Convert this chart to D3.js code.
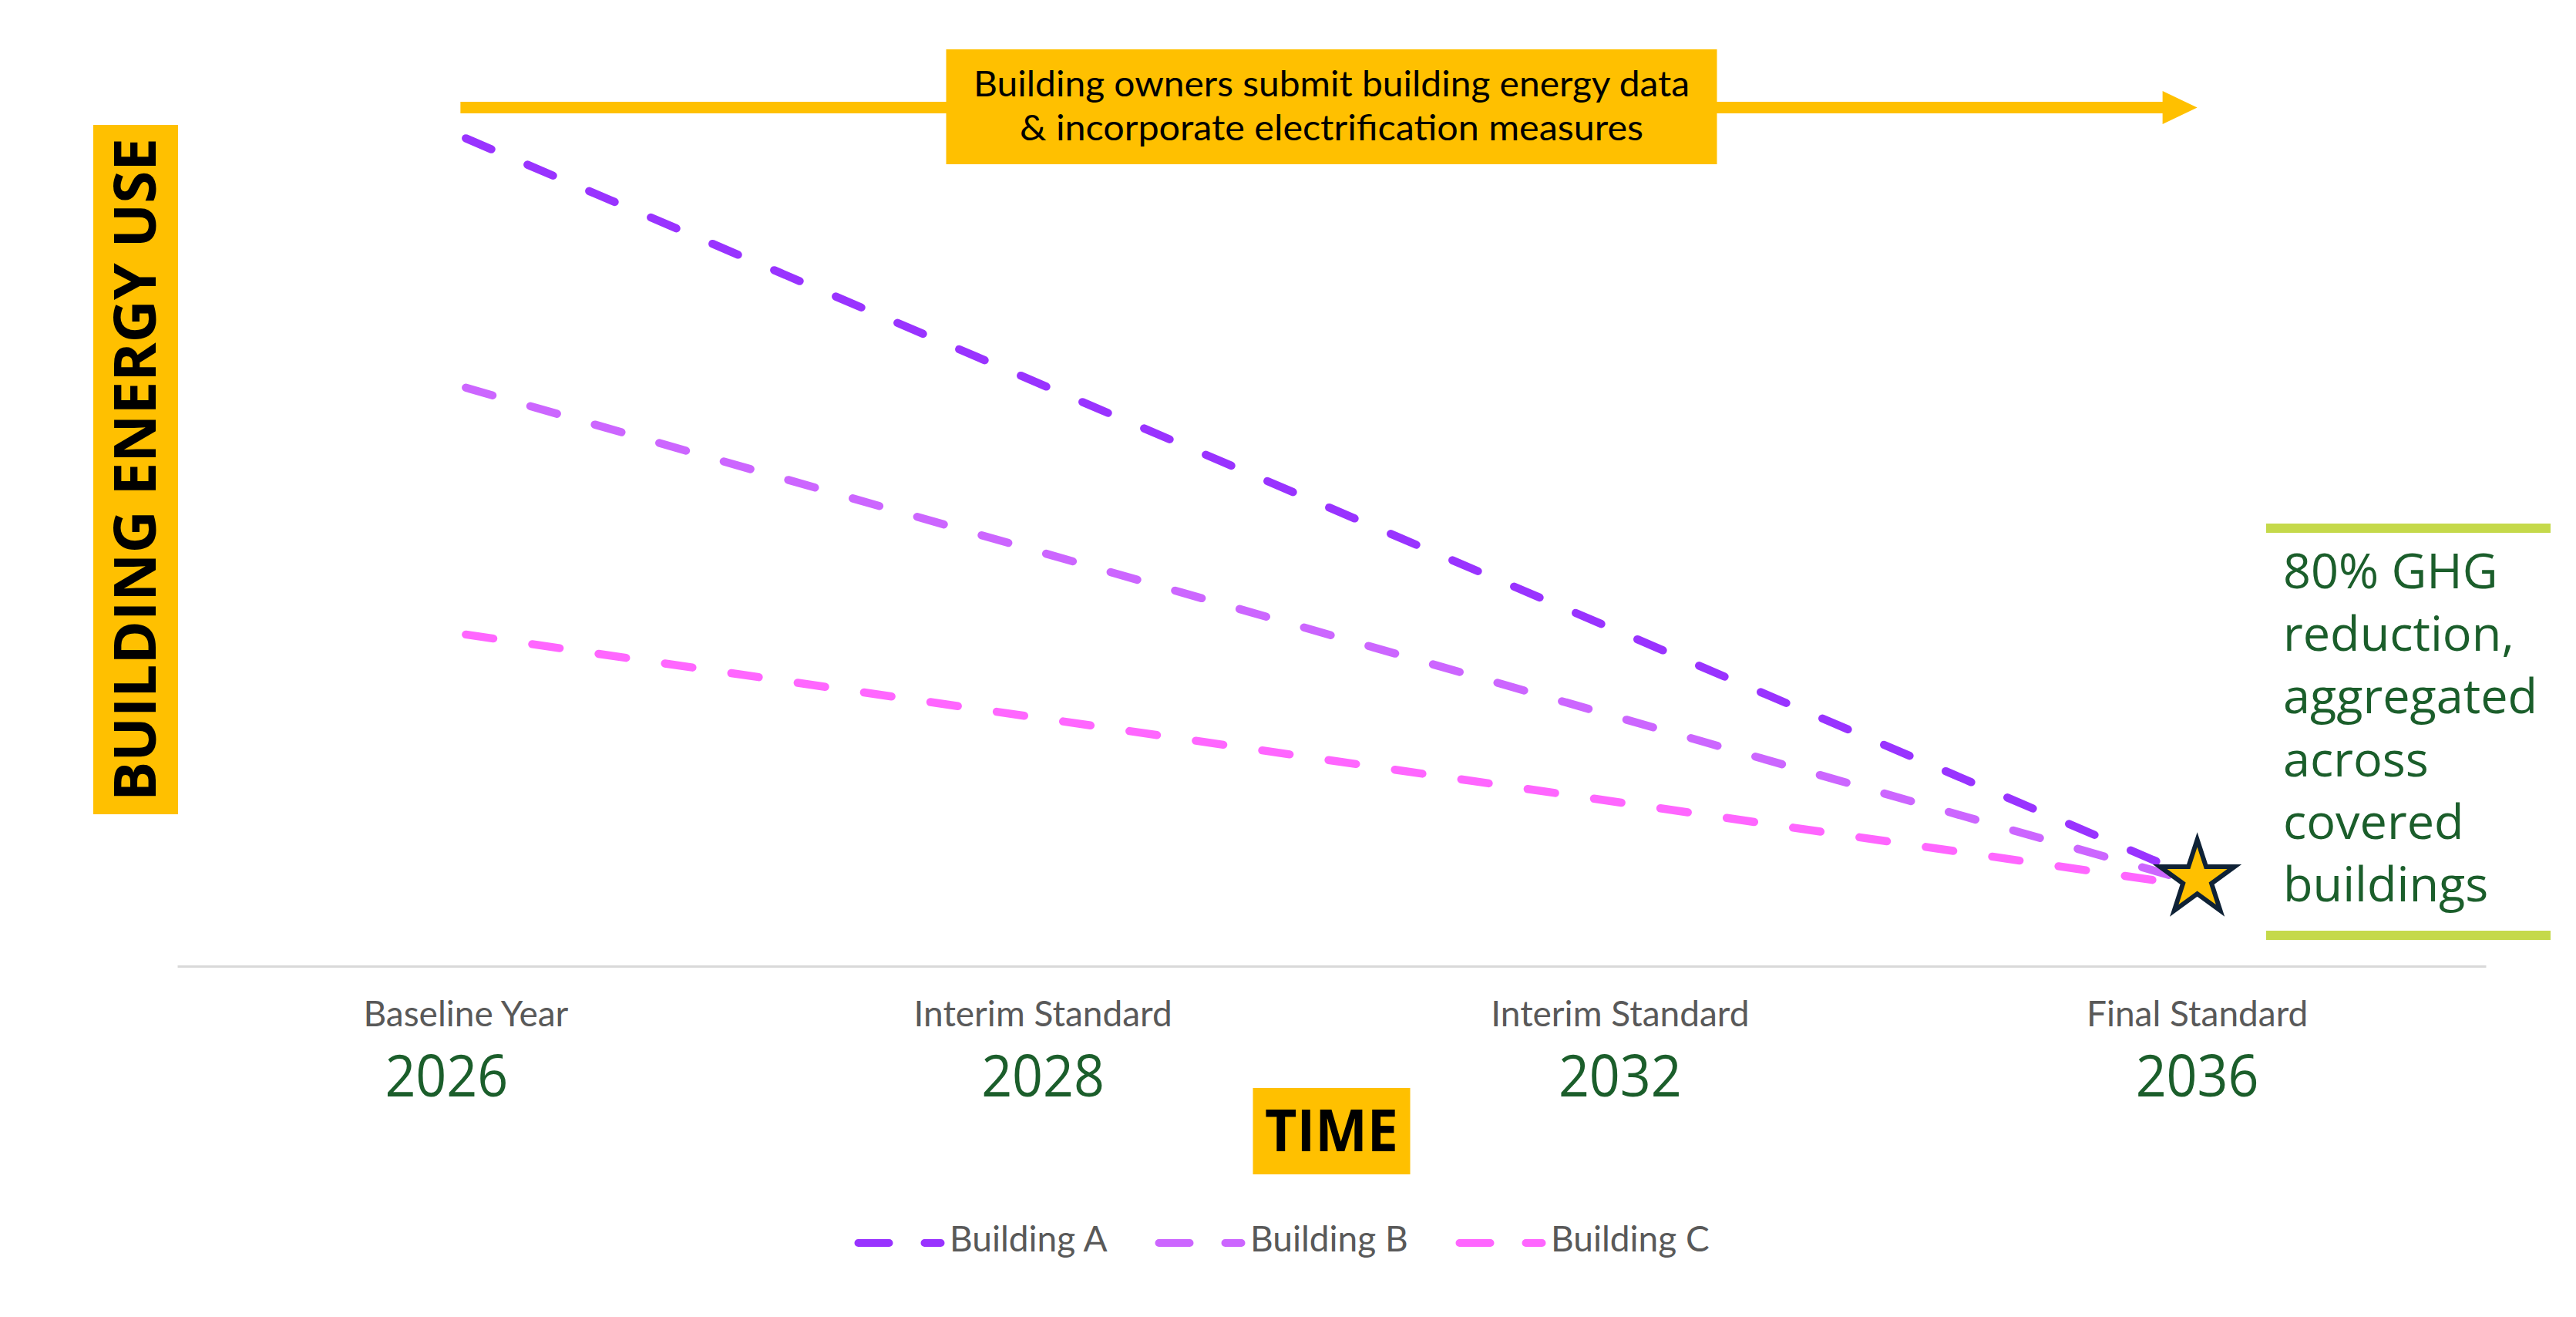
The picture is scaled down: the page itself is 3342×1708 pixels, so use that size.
<!DOCTYPE html>
<html>
<head>
<meta charset="utf-8">
<script src="https://cdn.jsdelivr.net/npm/d3@7"></script>
<style>
  body { margin: 0; background: #fff; }
  svg { display: block; }
</style>
</head>
<body>
<div id="chart"></div>
<script>
var width = 3342, height = 1708;

// milestones on the time axis
const stages = ["Baseline Year", "Interim Standard", "Interim Standard", "Final Standard"];
const years = ["2026", "2028", "2032", "2036"];

// building energy use (relative units, 0-100): baseline year -> final standard
const buildings = ["Building A", "Building B", "Building C"];
const startValues = [97.6, 68.2, 39.1];
const endValues = [10.3, 9.8, 9.4];
const colors = ["#9933ff", "#cc66ff", "#ff66ff"];

const arrowText = ["Building owners submit building energy data", "& incorporate electrification measures"];
const goalText = ["80% GHG", "reduction,", "aggregated", "across", "covered", "buildings"];
const yTitle = "BUILDING ENERGY USE";
const xTitle = "TIME";

const yellow = "#ffc000", green = "#1b5e2b", grey = "#595959";

var svg = d3.select("#chart").append("svg")
    .attr("width", width)
    .attr("height", height)
    .style("background", "#fff");

var x = d3.scaleBand().domain(years).range([230, 3225]);
var cx = d => x(d) + x.bandwidth() / 2;
var y = d3.scaleLinear().domain([0, 100]).range([1253, 153]);

var first = years[0], last = years[years.length - 1];

// x axis: grey baseline with stage names
var xAxis = svg.append("g")
    .attr("transform", "translate(0," + y(0) + ")")
    .call(d3.axisBottom(x).tickSize(0).tickSizeOuter(0).tickPadding(45)
        .tickFormat((d, i) => stages[i]));

xAxis.select(".domain").attr("stroke", "#d9d9d9").attr("stroke-width", 3);
xAxis.selectAll(".tick text")
    .attr("font-family", "Lato")
    .attr("font-size", 46)
    .attr("fill", grey);

xAxis.selectAll(".tick").append("text")
    .attr("x", (d, i) => i === 0 ? -25 : 0)
    .attr("y", 169)
    .attr("text-anchor", "middle")
    .attr("font-family", "Open Sans")
    .attr("font-size", 75)
    .attr("textLength", 160)
    .attr("lengthAdjust", "spacingAndGlyphs")
    .attr("fill", green)
    .text(d => d);

// dashed trajectories
var line = d3.line().x(d => cx(d.year)).y(d => y(d.v));
var series = buildings.map((b, i) => ({
    name: b,
    pts: [{ year: first, v: startValues[i] }, { year: last, v: endValues[i] }]
}));

svg.append("g")
    .selectAll("path")
    .data(series)
    .enter().append("path")
    .attr("d", d => line(d.pts))
    .attr("fill", "none")
    .attr("stroke", (d, i) => colors[i])
    .attr("stroke-width", 10.5)
    .attr("stroke-linecap", "round")
    .attr("stroke-dasharray", "36 51");

// star at the final standard
svg.append("path")
    .attr("d", d3.symbol(d3.symbolStar).size(2900)())
    .attr("transform", "translate(" + cx(last) + "," + y(endValues[0]) + ")")
    .attr("fill", yellow)
    .attr("stroke", "#0f2236")
    .attr("stroke-width", 6)
    .attr("stroke-linejoin", "miter");

// top arrow + label box
var ay = 139.5, ax0 = cx(first) - 7, ax1 = cx(last);
var ap = d3.path();
ap.moveTo(ax0, ay - 7.5);
ap.lineTo(ax1 - 45, ay - 7.5);
ap.lineTo(ax1 - 45, ay - 21.5);
ap.lineTo(ax1, ay);
ap.lineTo(ax1 - 45, ay + 21.5);
ap.lineTo(ax1 - 45, ay + 7.5);
ap.lineTo(ax0, ay + 7.5);
ap.closePath();
svg.append("path").attr("d", ap.toString()).attr("fill", yellow);

var boxCx = (cx(first) + cx(last)) / 2;
svg.append("rect")
    .attr("x", boxCx - 500).attr("y", 64)
    .attr("width", 1000).attr("height", 149)
    .attr("fill", yellow);

svg.append("g").selectAll("text")
    .data(arrowText)
    .enter().append("text")
    .attr("x", boxCx)
    .attr("y", (d, i) => 125 + i * 57)
    .attr("text-anchor", "middle")
    .attr("font-family", "Lato")
    .attr("font-size", 46)
    .attr("textLength", (d, i) => i === 0 ? 929 : 809)
    .attr("lengthAdjust", "spacingAndGlyphs")
    .attr("fill", "#000")
    .text(d => d);

// y title
svg.append("rect")
    .attr("x", 121).attr("y", 162)
    .attr("width", 110).attr("height", 894)
    .attr("fill", yellow);
svg.append("text")
    .attr("transform", "translate(202,609) rotate(-90)")
    .attr("text-anchor", "middle")
    .attr("font-family", "Open Sans")
    .attr("font-weight", "bold")
    .attr("font-size", 75)
    .attr("textLength", 860)
    .attr("lengthAdjust", "spacingAndGlyphs")
    .attr("fill", "#000")
    .text(yTitle);

// x title
svg.append("rect")
    .attr("x", boxCx - 102).attr("y", 1411)
    .attr("width", 204).attr("height", 112)
    .attr("fill", yellow);
svg.append("text")
    .attr("x", boxCx)
    .attr("y", 1493)
    .attr("text-anchor", "middle")
    .attr("font-family", "Open Sans")
    .attr("font-weight", "bold")
    .attr("font-size", 76)
    .attr("textLength", 173)
    .attr("lengthAdjust", "spacingAndGlyphs")
    .attr("fill", "#000")
    .text(xTitle);

// goal annotation
svg.append("g").selectAll("rect")
    .data([679, 1207])
    .enter().append("rect")
    .attr("x", 2940).attr("y", d => d)
    .attr("width", 369).attr("height", 12)
    .attr("fill", "#c5d94a");

svg.append("g").selectAll("text")
    .data(goalText)
    .enter().append("text")
    .attr("x", 2962)
    .attr("y", (d, i) => 763 + i * 81.2)
    .attr("font-family", "Open Sans")
    .attr("font-size", 63)
    .attr("fill", green)
    .text(d => d);

// legend
var legend = svg.append("g").selectAll("g")
    .data(buildings)
    .enter().append("g")
    .attr("transform", (d, i) => "translate(" + (1109 + i * 390) + ",1612)");

legend.append("line")
    .attr("x1", 4.5).attr("x2", 111.5)
    .attr("stroke", (d, i) => colors[i])
    .attr("stroke-width", 10)
    .attr("stroke-linecap", "round")
    .attr("stroke-dasharray", "40 46");

legend.append("text")
    .attr("x", 123)
    .attr("y", 11)
    .attr("font-family", "Lato")
    .attr("font-size", 46)
    .attr("fill", grey)
    .text(d => d);
</script>
</body>
</html>
